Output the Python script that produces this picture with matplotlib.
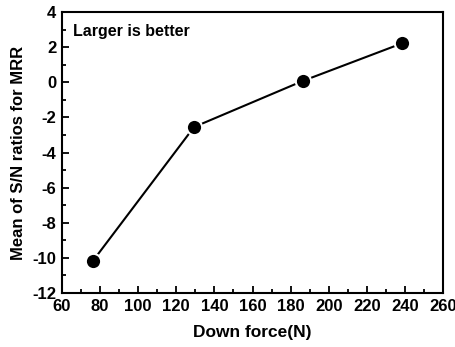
import matplotlib
matplotlib.use("Agg")
import matplotlib.pyplot as plt
from matplotlib.ticker import MultipleLocator

down_force = [76.3, 129.3, 186.3, 238.6]
sn_mean = [-10.16, -2.55, 0.07, 2.22]

plt.rcParams['font.family'] = ['Liberation Sans', 'DejaVu Sans']
plt.rcParams['font.weight'] = 'bold'
plt.rcParams['axes.unicode_minus'] = False

fig = plt.figure(figsize=(4.56, 3.47), dpi=100)
ax = fig.add_axes([0.136, 0.1556, 0.8355, 0.8098])
ax.plot(down_force, sn_mean, color='black', lw=1.5, marker='o', markersize=11,
        markerfacecolor='black', markeredgecolor='white', markeredgewidth=1.5)
ax.set_xlim(60, 260)
ax.set_ylim(-12, 4)
ax.xaxis.set_major_locator(MultipleLocator(20))
ax.xaxis.set_minor_locator(MultipleLocator(10))
ax.yaxis.set_major_locator(MultipleLocator(2))
ax.yaxis.set_minor_locator(MultipleLocator(1))
ax.tick_params(which='both', direction='in', width=1.3, labelsize=12)
ax.tick_params(which='major', length=5, pad=4)
ax.tick_params(which='minor', length=3)
for s in ax.spines.values():
    s.set_linewidth(1.5)
ax.set_xlabel('Down force(N)', fontsize=12.5, fontweight='bold', labelpad=8)
ax.set_ylabel('Mean of S/N ratios for MRR', fontsize=12, fontweight='bold', labelpad=5)
ax.text(0.03, 0.93, 'Larger is better', transform=ax.transAxes, fontsize=11.5,
        fontweight='bold', va='center', ha='left')
fig.savefig('out.png', dpi=100)
